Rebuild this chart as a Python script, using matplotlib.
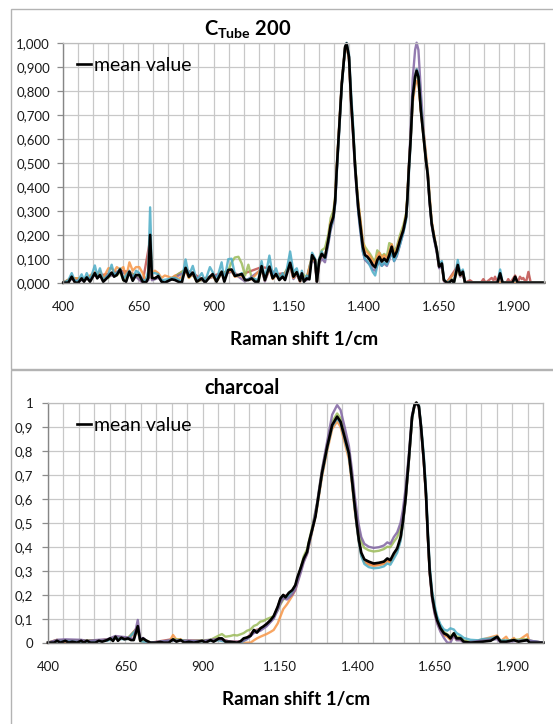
import matplotlib
matplotlib.use("Agg")
import matplotlib.pyplot as plt
from matplotlib.patches import Rectangle

plt.rcParams["font.family"] = ["Lato", "DejaVu Sans"]
plt.rcParams["mathtext.fontset"] = "custom"
plt.rcParams["mathtext.rm"] = "Lato:bold"
plt.rcParams["mathtext.it"] = "Lato:bold"
plt.rcParams["mathtext.bf"] = "Lato:bold"

# ---------------- data: top panel (C_Tube 200) ----------------
top_wn = [400, 417, 428, 439, 450, 461, 469, 478, 489, 505, 513, 522, 533, 550, 561, 569, 578, 589,
          600, 609, 620, 631, 642, 653, 664, 675, 683, 689, 695, 705, 716, 727, 738, 750, 761, 772,
          783, 794, 807, 818, 831, 844, 861, 872, 888, 897, 910, 927, 936, 949, 960, 971, 983, 994,
          1005, 1016, 1027, 1038, 1049, 1060, 1071, 1086, 1097, 1108, 1119, 1130, 1138, 1155, 1166,
          1177, 1188, 1194, 1201, 1210, 1219, 1228, 1238, 1244, 1252, 1260, 1271, 1282, 1290, 1299,
          1305, 1310, 1316, 1327, 1338, 1343, 1351, 1358, 1365, 1371, 1377, 1382, 1388, 1397, 1404,
          1412, 1421, 1430, 1438, 1445, 1452, 1460, 1468, 1477, 1485, 1493, 1501, 1510, 1521, 1532,
          1541, 1545, 1550, 1556, 1563, 1571, 1576, 1582, 1590, 1598, 1607, 1613, 1619, 1626, 1634,
          1643, 1651, 1660, 1667, 1676, 1685, 1693, 1700, 1713, 1721, 1730, 1737, 1845, 1854, 1862,
          1895, 1904, 1912, 2000]
top_mean = [0, 0, 0.025, 0, 0, 0.018, 0.004, 0.022, 0.004, 0.04, 0.018, 0.032, 0.004, 0.025, 0.042,
            0.025, 0.032, 0.055, 0.011, 0.004, 0.046, 0.008, 0.032, 0.032, 0.004, 0, 0.02, 0.199,
            0.02, 0.018, 0.028, 0.004, 0, 0.008, 0.014, 0.011, 0.004, 0, 0.062, 0.025, 0.042, 0.004,
            0.018, 0, 0.025, 0.036, 0.004, 0.046, 0.004, 0.053, 0.055, 0.028, 0.032, 0.036, 0.011,
            0.011, 0.018, 0.004, 0.004, 0.069, 0.011, 0.067, 0.018, 0.036, 0.011, 0.025, 0.011,
            0.083, 0.025, 0.044, 0.008, 0.039, 0.004, 0.018, 0.014, 0.115, 0.094, 0.004, 0.094,
            0.12, 0.105, 0.178, 0.24, 0.275, 0.344, 0.47, 0.595, 0.83, 0.983, 0.997, 0.94, 0.76,
            0.62, 0.49, 0.386, 0.31, 0.247, 0.15, 0.115, 0.108, 0.094, 0.074, 0.064, 0.094, 0.108,
            0.088, 0.1, 0.088, 0.115, 0.15, 0.108, 0.13, 0.178, 0.22, 0.275, 0.344, 0.47, 0.595,
            0.775, 0.858, 0.883, 0.858, 0.72, 0.62, 0.51, 0.45, 0.344, 0.247, 0.19, 0.136, 0.067,
            0.08, 0.011, 0, 0, 0.011, 0, 0.074, 0.032, 0.046, 0, 0, 0.039, 0, 0, 0.025, 0, 0]

top_teal_wn = [400, 417, 428, 439, 450, 461, 469, 478, 489, 505, 513, 522, 533, 550, 561, 569, 578,
               589, 600, 620, 631, 642, 653, 664, 675, 683, 689, 695, 705, 716, 727, 750, 761, 772,
               794, 807, 818, 831, 844, 861, 872, 888, 897, 910, 927, 936, 949, 960, 971, 983, 994,
               1005, 1016, 1027, 1049, 1060, 1071, 1086, 1097, 1108, 1119, 1130, 1138, 1155, 1166,
               1177, 1188, 1194, 1201, 1210, 1219, 1228, 1238, 1244, 1252, 1260, 1271, 1282, 1290,
               1299, 1305, 1310, 1316, 1327, 1338, 1343, 1351, 1358, 1365, 1371, 1377, 1382, 1388,
               1397, 1404, 1412, 1421, 1430, 1438, 1445, 1452, 1460, 1468, 1477, 1485, 1493, 1501,
               1510, 1521, 1532, 1541, 1545, 1550, 1556, 1563, 1571, 1576, 1582, 1590, 1598, 1607,
               1613, 1619, 1626, 1634, 1643, 1651, 1660, 1667, 1676, 1693, 1700, 1713, 1721, 1730,
               1737, 1845, 1854, 1862, 1895, 1904, 1912, 2000]
top_teal = [0, 0.01, 0.04, 0.005, 0.01, 0.035, 0.01, 0.04, 0.01, 0.072, 0.03, 0.06, 0.01, 0.035,
            0.075, 0.035, 0.04, 0.06, 0.015, 0.05, 0.01, 0.05, 0.04, 0.01, 0.01, 0.05, 0.314, 0.04,
            0.04, 0.035, 0.01, 0.015, 0.02, 0.02, 0.005, 0.097, 0.03, 0.07, 0.01, 0.04, 0.005, 0.065,
            0.045, 0.01, 0.085, 0.01, 0.098, 0.1, 0.035, 0.03, 0.04, 0.01, 0.015, 0.02, 0.01, 0.09,
            0.015, 0.113, 0.03, 0.06, 0.015, 0.04, 0.015, 0.13, 0.045, 0.06, 0.01, 0.05, 0.005, 0.03,
            0.02, 0.125, 0.1, 0.01, 0.1, 0.13, 0.1, 0.17, 0.23, 0.27, 0.33, 0.45, 0.58, 0.82, 0.98,
            1.0, 0.95, 0.79, 0.65, 0.5, 0.39, 0.3, 0.23, 0.13, 0.1, 0.09, 0.07, 0.045, 0.03, 0.07,
            0.09, 0.07, 0.085, 0.075, 0.1, 0.13, 0.09, 0.115, 0.16, 0.21, 0.26, 0.33, 0.45, 0.58,
            0.77, 0.86, 0.89, 0.87, 0.74, 0.63, 0.52, 0.46, 0.35, 0.25, 0.19, 0.14, 0.075, 0.09,
            0.015, 0, 0.01, 0, 0.095, 0.04, 0.055, 0, 0, 0.055, 0, 0, 0.02, 0, 0]

top_orange_wn = [400, 428, 461, 478, 505, 513, 522, 533, 550, 561, 569, 578, 589, 600, 609, 620, 631,
                 642, 653, 664, 675, 683, 689, 695, 705, 716, 727, 738, 750, 761, 772, 783, 794, 807,
                 818, 831, 844, 861, 888, 897, 910, 927, 949, 960, 971, 994, 1005, 1027, 1060, 1071,
                 1086, 1097, 1108, 1130, 1155, 1166, 1177, 1188, 1194, 1210, 1228, 1238, 1244, 1252,
                 1260, 1271, 1282, 1290, 1299, 1305, 1310, 1316, 1327, 1338, 1343, 1351, 1358, 1365,
                 1371, 1377, 1382, 1388, 1397, 1404, 1412, 1421, 1430, 1438, 1445, 1452, 1460, 1468,
                 1477, 1485, 1493, 1501, 1510, 1521, 1532, 1541, 1545, 1550, 1556, 1563, 1571, 1576,
                 1582, 1590, 1598, 1607, 1613, 1619, 1626, 1634, 1643, 1651, 1660, 1667, 1676, 1713,
                 1721, 1730, 1737, 2000]
top_orange = [0, 0.02, 0.015, 0.02, 0.045, 0.025, 0.05, 0.02, 0.06, 0.06, 0.045, 0.065, 0.055, 0.065,
              0.02, 0.085, 0.05, 0.065, 0.065, 0.04, 0.01, 0.03, 0.2, 0.04, 0.05, 0.04, 0.02, 0.03,
              0.025, 0.02, 0.03, 0.015, 0.025, 0.05, 0.02, 0.04, 0.005, 0.015, 0.02, 0.03, 0.005,
              0.04, 0.045, 0.05, 0.025, 0.03, 0.01, 0.015, 0.06, 0.01, 0.06, 0.015, 0.03, 0.02, 0.07,
              0.02, 0.04, 0.005, 0.03, 0.015, 0.1, 0.09, 0.005, 0.09, 0.125, 0.11, 0.18, 0.25, 0.28,
              0.35, 0.47, 0.6, 0.83, 0.98, 0.99, 0.93, 0.75, 0.62, 0.5, 0.4, 0.33, 0.27, 0.17, 0.135,
              0.125, 0.11, 0.09, 0.08, 0.11, 0.125, 0.1, 0.115, 0.1, 0.13, 0.16, 0.12, 0.14, 0.185,
              0.225, 0.28, 0.35, 0.47, 0.59, 0.75, 0.82, 0.84, 0.83, 0.72, 0.64, 0.54, 0.47, 0.37,
              0.26, 0.2, 0.14, 0.07, 0.08, 0.01, 0, 0.06, 0.03, 0.04, 0, 0]

top_green_wn = [400, 428, 461, 478, 505, 522, 550, 561, 578, 589, 600, 620, 642, 664, 683, 689, 695,
                705, 716, 738, 807, 818, 831, 844, 888, 897, 910, 927, 949, 960, 971, 983, 994, 1005,
                1016, 1027, 1049, 1060, 1071, 1086, 1097, 1108, 1130, 1155, 1166, 1177, 1188, 1194,
                1210, 1228, 1238, 1244, 1252, 1260, 1271, 1282, 1290, 1299, 1305, 1310, 1316, 1327,
                1338, 1343, 1351, 1358, 1365, 1371, 1377, 1382, 1388, 1397, 1404, 1412, 1421, 1430,
                1438, 1445, 1452, 1460, 1468, 1477, 1485, 1493, 1501, 1510, 1521, 1532, 1541, 1545,
                1550, 1556, 1563, 1571, 1576, 1582, 1590, 1598, 1607, 1613, 1619, 1626, 1634, 1643,
                1651, 1660, 1667, 1676, 1693, 1700, 1713, 1721, 1730, 1737, 2000]
top_green = [0, 0.02, 0.015, 0.02, 0.035, 0.03, 0.02, 0.035, 0.03, 0.045, 0.01, 0.04, 0.03, 0.005,
             0.02, 0.19, 0.02, 0.015, 0.025, 0, 0.055, 0.02, 0.035, 0.005, 0.02, 0.03, 0.005, 0.04,
             0.05, 0.085, 0.105, 0.108, 0.08, 0.03, 0.075, 0.02, 0.005, 0.06, 0.01, 0.06, 0.02, 0.035,
             0.025, 0.08, 0.03, 0.045, 0.01, 0.04, 0.02, 0.11, 0.095, 0.005, 0.1, 0.135, 0.145, 0.2,
             0.27, 0.3, 0.36, 0.48, 0.6, 0.83, 0.98, 0.99, 0.93, 0.76, 0.63, 0.5, 0.4, 0.33, 0.27,
             0.17, 0.15, 0.135, 0.12, 0.1, 0.09, 0.135, 0.125, 0.11, 0.12, 0.11, 0.165, 0.16, 0.13,
             0.15, 0.2, 0.24, 0.29, 0.36, 0.48, 0.6, 0.77, 0.85, 0.87, 0.85, 0.72, 0.62, 0.51, 0.45,
             0.35, 0.25, 0.19, 0.135, 0.065, 0.075, 0.01, 0, 0.015, 0, 0.06, 0.03, 0.04, 0, 0]

top_purple_wn = [400, 428, 461, 478, 505, 522, 561, 589, 620, 642, 664, 683, 689, 695, 716, 738, 807,
                 831, 861, 888, 927, 960, 983, 1005, 1060, 1071, 1086, 1108, 1130, 1155, 1166, 1177,
                 1188, 1194, 1210, 1228, 1238, 1244, 1252, 1260, 1271, 1282, 1290, 1299, 1305, 1310,
                 1316, 1327, 1338, 1343, 1351, 1358, 1365, 1371, 1377, 1382, 1388, 1397, 1404, 1412,
                 1421, 1430, 1438, 1445, 1452, 1460, 1468, 1477, 1485, 1493, 1501, 1510, 1521, 1532,
                 1541, 1545, 1550, 1556, 1563, 1571, 1576, 1582, 1590, 1598, 1607, 1613, 1619, 1626,
                 1634, 1643, 1651, 1660, 1667, 1676, 1713, 1721, 1730, 1737, 2000]
top_purple = [0, 0.015, 0.01, 0.015, 0.03, 0.025, 0.03, 0.045, 0.035, 0.025, 0, 0.01, 0.17, 0.01,
              0.02, 0, 0.045, 0.03, 0.01, 0.02, 0.035, 0.045, 0.025, 0.005, 0.055, 0.005, 0.055,
              0.03, 0.02, 0.07, 0.015, 0.035, 0.005, 0.03, 0.01, 0.1, 0.08, 0, 0.08, 0.1, 0.085,
              0.16, 0.22, 0.26, 0.33, 0.46, 0.59, 0.83, 0.98, 0.99, 0.93, 0.74, 0.6, 0.47, 0.37,
              0.29, 0.22, 0.13, 0.095, 0.085, 0.075, 0.055, 0.05, 0.075, 0.09, 0.07, 0.08, 0.07,
              0.095, 0.13, 0.09, 0.11, 0.16, 0.21, 0.27, 0.34, 0.48, 0.63, 0.85, 0.97, 1.0, 0.97,
              0.8, 0.65, 0.52, 0.45, 0.34, 0.24, 0.18, 0.125, 0.06, 0.07, 0.005, 0, 0.06, 0.025,
              0.035, 0, 0]

top_red_wn = [400, 428, 461, 478, 505, 522, 561, 589, 620, 642, 664, 689, 695, 716, 738, 807, 831,
              861, 888, 927, 960, 983, 1060, 1086, 1108, 1138, 1155, 1166, 1177, 1188, 1194, 1210,
              1228, 1238, 1244, 1252, 1260, 1271, 1282, 1290, 1299, 1305, 1310, 1316, 1327, 1338,
              1343, 1351, 1358, 1365, 1371, 1377, 1382, 1388, 1397, 1404, 1412, 1421, 1430, 1438,
              1445, 1452, 1460, 1468, 1477, 1485, 1493, 1501, 1510, 1521, 1532, 1541, 1545, 1550,
              1556, 1563, 1571, 1576, 1582, 1590, 1598, 1607, 1613, 1619, 1626, 1634, 1643, 1651,
              1660, 1667, 1676, 1713, 1721, 1730, 1737, 1754, 1765, 1790, 1798, 1806, 1826, 1832,
              1837, 1845, 1854, 1862, 1875, 1881, 1888, 1904, 1912, 1920, 1926, 1931, 1940, 1948,
              1956, 2000]
top_red = [0, 0.02, 0.015, 0.02, 0.035, 0.03, 0.04, 0.05, 0.045, 0.03, 0, 0.18, 0.015, 0.025, 0,
           0.055, 0.04, 0.015, 0.025, 0.04, 0.05, 0.03, 0.065, 0.06, 0.035, 0.04, 0.075, 0.02, 0.04,
           0.005, 0.035, 0.015, 0.11, 0.09, 0.005, 0.09, 0.115, 0.1, 0.175, 0.24, 0.27, 0.34, 0.47,
           0.6, 0.83, 0.98, 0.99, 0.94, 0.76, 0.62, 0.49, 0.39, 0.31, 0.25, 0.15, 0.115, 0.11,
           0.095, 0.075, 0.065, 0.095, 0.11, 0.09, 0.1, 0.09, 0.115, 0.15, 0.11, 0.13, 0.18, 0.22,
           0.275, 0.345, 0.47, 0.6, 0.78, 0.86, 0.89, 0.86, 0.72, 0.62, 0.51, 0.45, 0.34, 0.25,
           0.19, 0.135, 0.065, 0.08, 0.01, 0, 0.07, 0.03, 0.045, 0, 0.01, 0, 0, 0.015, 0, 0.02,
           0.01, 0.025, 0, 0.035, 0, 0, 0.015, 0, 0.03, 0, 0.025, 0.015, 0.02, 0, 0.045, 0, 0]

# ---------------- data: bottom panel (charcoal) ----------------
bot_wn = [400, 420, 429, 440, 456, 467, 478, 494, 507, 515, 526, 537, 553, 564, 575, 591, 601, 610,
          618, 626, 637, 647, 658, 668, 677, 690, 698, 707, 718, 731, 747, 763, 774, 790, 804, 815,
          828, 841, 855, 871, 882, 898, 909, 925, 935, 952, 962, 973, 989, 1011, 1022, 1032, 1043,
          1054, 1065, 1075, 1086, 1095, 1106, 1119, 1129, 1142, 1151, 1160, 1167, 1178, 1189, 1199,
          1205, 1216, 1226, 1237, 1242, 1253, 1264, 1269, 1285, 1302, 1318, 1334, 1345, 1358, 1372,
          1382, 1390, 1397, 1404, 1412, 1422, 1436, 1452, 1469, 1485, 1496, 1506, 1517, 1528, 1539,
          1546, 1555, 1566, 1576, 1584, 1590, 1598, 1605, 1614, 1621, 1627, 1633, 1641, 1649, 1657,
          1668, 1679, 1690, 1700, 1711, 1720, 1733, 1743, 1765, 1803, 1830, 1851, 1862, 1880, 1905,
          1920, 1948, 1956, 2000]
bot_mean = [0, 0, 0.008, 0, 0.008, 0, 0.004, 0, 0.008, 0, 0.008, 0, 0, 0.008, 0.004, 0.011, 0.018,
            0.007, 0.025, 0.008, 0.021, 0.014, 0.018, 0.011, 0.011, 0.069, 0.008, 0.018, 0.008, 0,
            0, 0.003, 0, 0, 0.014, 0.004, 0.011, 0, 0.004, 0, 0.003, 0.008, 0, 0.011, 0.004, 0.018,
            0.018, 0.004, 0.004, 0, 0.006, 0.018, 0.022, 0.028, 0.053, 0.042, 0.06, 0.067, 0.078,
            0.094, 0.111, 0.15, 0.185, 0.199, 0.189, 0.208, 0.219, 0.24, 0.27, 0.31, 0.35, 0.379,
            0.414, 0.47, 0.525, 0.57, 0.706, 0.817, 0.907, 0.942, 0.921, 0.858, 0.789, 0.678, 0.58,
            0.5, 0.43, 0.375, 0.347, 0.338, 0.33, 0.333, 0.338, 0.351, 0.344, 0.372, 0.393, 0.44,
            0.5, 0.6, 0.77, 0.94, 0.99, 1.0, 0.985, 0.9, 0.76, 0.62, 0.45, 0.3, 0.194, 0.136, 0.094,
            0.06, 0.039, 0.032, 0.018, 0.039, 0.018, 0.018, 0.004, 0, 0.004, 0.008, 0.025, 0.004,
            0.004, 0.011, 0.004, 0.011, 0, 0]

bot_green_wn = [400, 429, 456, 507, 526, 564, 591, 618, 637, 658, 690, 698, 718, 731, 790, 804, 828,
                855, 898, 925, 952, 962, 973, 989, 1000, 1011, 1022, 1032, 1043, 1054, 1065, 1075,
                1086, 1095, 1106, 1119, 1129, 1142, 1151, 1160, 1172, 1189, 1199, 1216, 1226, 1237,
                1253, 1269, 1285, 1302, 1318, 1334, 1345, 1358, 1372, 1382, 1390, 1397, 1404, 1412,
                1422, 1436, 1452, 1469, 1485, 1496, 1506, 1517, 1528, 1539, 1546, 1555, 1566, 1576,
                1584, 1590, 1598, 1605, 1614, 1621, 1627, 1633, 1641, 1649, 1657, 1668, 1679, 1690,
                1700, 1711, 1720, 1733, 1743, 1765, 1803, 1830, 1851, 1862, 1905, 1948, 1956, 2000]
bot_green = [0, 0.01, 0.01, 0.01, 0.01, 0.01, 0.012, 0.025, 0.02, 0.02, 0.06, 0.01, 0.01, 0, 0,
             0.015, 0.012, 0.006, 0.01, 0.012, 0.03, 0.036, 0.025, 0.028, 0.032, 0.03, 0.035, 0.04,
             0.05, 0.055, 0.07, 0.075, 0.088, 0.09, 0.098, 0.105, 0.11, 0.135, 0.16, 0.18, 0.19,
             0.215, 0.235, 0.31, 0.36, 0.39, 0.48, 0.58, 0.72, 0.83, 0.92, 0.955, 0.935, 0.875, 0.8,
             0.7, 0.6, 0.53, 0.47, 0.42, 0.395, 0.385, 0.38, 0.383, 0.39, 0.4, 0.398, 0.42, 0.44,
             0.48, 0.53, 0.62, 0.78, 0.94, 0.99, 1.0, 0.985, 0.9, 0.76, 0.62, 0.45, 0.3, 0.2, 0.14,
             0.1, 0.065, 0.045, 0.035, 0.025, 0.04, 0.025, 0.022, 0.01, 0.004, 0.006, 0.01, 0.02,
             0.006, 0.012, 0.015, 0, 0]

bot_orange_wn = [400, 429, 440, 467, 507, 591, 618, 637, 658, 690, 698, 718, 731, 790, 804, 815, 828,
                 841, 898, 925, 952, 962, 989, 1011, 1022, 1032, 1043, 1054, 1065, 1075, 1086, 1095,
                 1106, 1119, 1129, 1142, 1151, 1160, 1172, 1189, 1199, 1216, 1226, 1237, 1253, 1269,
                 1285, 1302, 1318, 1334, 1345, 1358, 1372, 1382, 1390, 1397, 1404, 1412, 1422, 1436,
                 1452, 1469, 1485, 1496, 1506, 1517, 1528, 1539, 1546, 1555, 1566, 1576, 1584, 1590,
                 1598, 1605, 1614, 1621, 1627, 1633, 1641, 1649, 1657, 1668, 1679, 1690, 1700, 1711,
                 1720, 1733, 1743, 1765, 1851, 1862, 1880, 1890, 1905, 1915, 1948, 1956, 2000]
bot_orange = [0, 0.012, 0, 0, 0.006, 0.012, 0.02, 0.018, 0.015, 0.05, 0.005, 0.006, 0, 0, 0.032,
              0.012, 0.015, 0, 0.006, 0.008, 0.012, 0.01, 0, 0, 0, 0, 0, 0, 0.01, 0.018, 0.025,
              0.03, 0.036, 0.045, 0.053, 0.08, 0.11, 0.14, 0.16, 0.195, 0.22, 0.3, 0.34, 0.37, 0.46,
              0.56, 0.69, 0.8, 0.89, 0.922, 0.9, 0.835, 0.765, 0.66, 0.56, 0.49, 0.42, 0.365, 0.335,
              0.325, 0.32, 0.323, 0.328, 0.34, 0.335, 0.36, 0.385, 0.43, 0.49, 0.59, 0.76, 0.93,
              0.99, 1.0, 0.98, 0.9, 0.75, 0.61, 0.44, 0.29, 0.185, 0.125, 0.085, 0.05, 0.03, 0.025,
              0.012, 0.03, 0.012, 0.012, 0.004, 0, 0.03, 0.006, 0.025, 0.005, 0.02, 0.005, 0.035,
              0, 0]

bot_purple_wn = [400, 429, 456, 507, 526, 564, 591, 618, 637, 658, 677, 690, 698, 707, 718, 731, 804,
                 828, 898, 925, 952, 989, 1022, 1043, 1065, 1086, 1106, 1129, 1142, 1151, 1160, 1172,
                 1189, 1199, 1216, 1226, 1237, 1253, 1269, 1285, 1302, 1318, 1334, 1345, 1358, 1372,
                 1382, 1390, 1397, 1404, 1412, 1422, 1436, 1452, 1469, 1485, 1496, 1506, 1517, 1528,
                 1539, 1546, 1555, 1566, 1576, 1584, 1590, 1598, 1605, 1614, 1621, 1627, 1633, 1641,
                 1649, 1657, 1668, 1679, 1690, 1700, 1711, 1720, 1733, 1743, 1851, 1862, 1905, 1948,
                 2000]
bot_purple = [0, 0.012, 0.014, 0.012, 0.008, 0.012, 0.014, 0.028, 0.025, 0.022, 0.015, 0.095, 0.015,
              0.02, 0.008, 0, 0.01, 0.008, 0.008, 0.012, 0.015, 0.004, 0.004, 0.015, 0.04, 0.05,
              0.068, 0.1, 0.135, 0.165, 0.185, 0.18, 0.2, 0.22, 0.29, 0.335, 0.37, 0.47, 0.58, 0.72,
              0.84, 0.95, 0.99, 0.97, 0.9, 0.82, 0.72, 0.62, 0.55, 0.49, 0.44, 0.412, 0.4, 0.395,
              0.398, 0.405, 0.418, 0.412, 0.44, 0.46, 0.5, 0.55, 0.64, 0.79, 0.95, 0.99, 1.0, 0.98,
              0.89, 0.75, 0.61, 0.44, 0.29, 0.18, 0.12, 0.08, 0.045, 0.02, 0, 0, 0.03, 0.01, 0.01,
              0, 0.015, 0, 0.006, 0.01, 0]

bot_teal_wn = [400, 429, 456, 507, 591, 618, 637, 658, 690, 698, 731, 804, 898, 952, 989, 1022, 1043,
               1065, 1086, 1106, 1129, 1142, 1151, 1160, 1172, 1189, 1199, 1216, 1226, 1237, 1253,
               1269, 1285, 1302, 1318, 1334, 1345, 1358, 1372, 1382, 1390, 1397, 1404, 1412, 1422,
               1436, 1452, 1469, 1485, 1496, 1506, 1517, 1528, 1539, 1546, 1555, 1566, 1576, 1584,
               1590, 1598, 1605, 1614, 1621, 1627, 1633, 1641, 1649, 1657, 1668, 1679, 1690, 1700,
               1711, 1720, 1733, 1743, 1765, 1790, 1803, 1830, 1851, 1862, 1905, 1948, 2000]
bot_teal = [0, 0.006, 0.008, 0.004, 0.008, 0.02, 0.015, 0.015, 0.06, 0.006, 0, 0.01, 0.005, 0.01, 0,
            0, 0.015, 0.045, 0.055, 0.072, 0.105, 0.145, 0.18, 0.195, 0.19, 0.212, 0.235, 0.305,
            0.345, 0.375, 0.465, 0.565, 0.7, 0.81, 0.9, 0.935, 0.915, 0.85, 0.78, 0.67, 0.57, 0.49,
            0.42, 0.36, 0.328, 0.315, 0.31, 0.312, 0.318, 0.33, 0.325, 0.35, 0.375, 0.425, 0.49,
            0.59, 0.76, 0.93, 0.99, 1.0, 0.99, 0.91, 0.78, 0.64, 0.47, 0.32, 0.215, 0.155, 0.11,
            0.075, 0.055, 0.05, 0.06, 0.055, 0.04, 0.03, 0.02, 0.012, 0.01, 0.015, 0.018, 0.025,
            0.01, 0.008, 0.01, 0]

bot_red_wn = [400, 429, 456, 507, 564, 601, 618, 637, 658, 690, 698, 707, 731, 804, 828, 898, 925,
              952, 989, 1022, 1043, 1065, 1086, 1106, 1129, 1142, 1151, 1160, 1172, 1189, 1199, 1216,
              1226, 1237, 1253, 1269, 1285, 1302, 1318, 1334, 1345, 1358, 1372, 1382, 1390, 1397,
              1404, 1412, 1422, 1436, 1452, 1469, 1485, 1496, 1506, 1517, 1528, 1539, 1546, 1555,
              1566, 1576, 1584, 1590, 1598, 1605, 1614, 1621, 1627, 1633, 1641, 1649, 1657, 1668,
              1679, 1690, 1700, 1711, 1720, 1733, 1743, 1765, 1851, 1862, 1905, 1948, 2000]
bot_red = [0, 0.008, 0.006, 0.008, 0.008, 0.015, 0.022, 0.02, 0.018, 0.065, 0.01, 0.015, 0, 0.015,
           0.01, 0.008, 0.01, 0.018, 0.004, 0.005, 0.02, 0.05, 0.058, 0.075, 0.108, 0.148, 0.183,
           0.197, 0.195, 0.217, 0.238, 0.308, 0.348, 0.377, 0.468, 0.568, 0.703, 0.813, 0.903,
           0.938, 0.918, 0.855, 0.785, 0.675, 0.575, 0.497, 0.427, 0.37, 0.34, 0.33, 0.323, 0.326,
           0.331, 0.344, 0.337, 0.365, 0.386, 0.434, 0.495, 0.595, 0.765, 0.935, 0.99, 1.0, 0.985,
           0.9, 0.757, 0.617, 0.447, 0.297, 0.19, 0.13, 0.09, 0.056, 0.035, 0.028, 0.015, 0.036,
           0.015, 0.015, 0.003, 0, 0.022, 0.003, 0.01, 0.01, 0]

x_ticks = [400, 650, 900, 1150, 1400, 1650, 1900]
x_tick_labels = ["400", "650", "900", "1.150", "1.400", "1.650", "1.900"]
y_ticks = [0.0, 0.1, 0.2, 0.3, 0.4, 0.5, 0.6, 0.7, 0.8, 0.9, 1.0]
top_y_labels = ["0,000", "0,100", "0,200", "0,300", "0,400", "0,500", "0,600", "0,700", "0,800",
                "0,900", "1,000"]
bot_y_labels = ["0", "0,1", "0,2", "0,3", "0,4", "0,5", "0,6", "0,7", "0,8", "0,9", "1"]
x_grid = list(range(400, 2001, 50))

COLORS = {
    "red": "#C0504D",
    "green": "#9BBB59",
    "purple": "#8064A2",
    "orange": "#F79646",
    "teal": "#4BACC6",
}

W, H = 553, 724
fig = plt.figure(figsize=(W / 100, H / 100), dpi=100)

# chart frames
for (x0, y0, x1, y1) in [(10.5, 9, 600, 368.5), (10.5, 369.5, 600, 800)]:
    fig.patches.append(Rectangle((x0 / W, 1 - y1 / H), (x1 - x0) / W, (y1 - y0) / H,
                                 transform=fig.transFigure, fill=False,
                                 edgecolor="#B3B3B3", linewidth=1.0))


def setup_axes(ax, ylabels, ypad):
    ax.set_xlim(400, 2000)
    ax.set_ylim(0, 1)
    ax.set_xticks(x_grid, minor=True)
    ax.set_xticks(x_ticks)
    ax.set_xticklabels(x_tick_labels)
    ax.set_yticks(y_ticks)
    ax.set_yticklabels(ylabels)
    ax.grid(True, which="both", axis="x", color="#C8C8C8", linewidth=0.9)
    ax.grid(True, which="major", axis="y", color="#C8C8C8", linewidth=0.9)
    ax.set_axisbelow(True)
    ax.tick_params(axis="x", which="both", length=0, pad=13, labelsize=9.5, colors="#1a1a1a")
    ax.tick_params(axis="y", length=4, width=0.9, pad=ypad, labelsize=9.5, colors="#1a1a1a")
    ax.tick_params(axis="y", color="#8C8C8C")
    for side in ["top", "right"]:
        ax.spines[side].set_color("#BDBDBD")
        ax.spines[side].set_linewidth(0.9)
    for side in ["left", "bottom"]:
        ax.spines[side].set_color("#868686")
        ax.spines[side].set_linewidth(1.0)
    ax.set_xlabel("Raman shift 1/cm", fontsize=13.5, fontweight="bold", labelpad=13)


def draw_series(ax, series, mean_x, mean_y):
    for name, xs, ys in series:
        ax.plot(xs, ys, color=COLORS[name], linewidth=1.7, alpha=0.85, clip_on=False)
    ax.plot(mean_x, mean_y, color="black", linewidth=1.9, label="mean value", clip_on=False)


ax1 = fig.add_axes([63.3 / W, 1 - 282.7 / H, (544 - 63.3) / W, 240 / H])
setup_axes(ax1, top_y_labels, 5.5)
draw_series(ax1, [("red", top_red_wn, top_red), ("green", top_green_wn, top_green),
                  ("purple", top_purple_wn, top_purple), ("orange", top_orange_wn, top_orange),
                  ("teal", top_teal_wn, top_teal)], top_wn, top_mean)

ax2 = fig.add_axes([48 / W, 1 - 642.7 / H, (543.3 - 48) / W, 240 / H])
setup_axes(ax2, bot_y_labels, 6.5)
draw_series(ax2, [("red", bot_red_wn, bot_red), ("orange", bot_orange_wn, bot_orange),
                  ("green", bot_green_wn, bot_green), ("teal", bot_teal_wn, bot_teal),
                  ("purple", bot_purple_wn, bot_purple)], bot_wn, bot_mean)

for ax, ytop in [(ax1, 57), (ax2, 417)]:
    ax.legend(loc="upper left", bbox_to_anchor=(76.7 / W, 1 - ytop / H),
              bbox_transform=fig.transFigure, frameon=False, fontsize=14,
              handlelength=0.75, handletextpad=0.12, borderpad=0, borderaxespad=0)

fig.text(204 / W, 1 - 36 / H, r"C$_{\mathrm{Tube}}$ 200", fontsize=14.5, fontweight="bold",
         ha="left", va="baseline")
fig.text(204 / W, 1 - 394 / H, "charcoal", fontsize=14.5, fontweight="bold",
         ha="left", va="baseline")

fig.savefig("out.png", dpi=100)
